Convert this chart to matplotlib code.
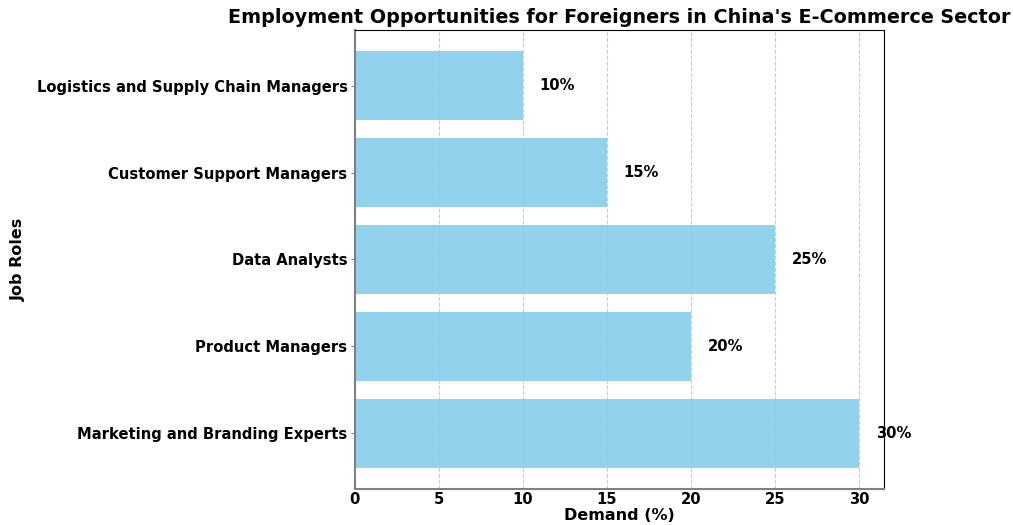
import matplotlib.pyplot as plt

roles = ['Marketing and Branding Experts', 'Product Managers', 'Data Analysts',
         'Customer Support Managers', 'Logistics and Supply Chain Managers']
demand = [30, 20, 25, 15, 10]

fig, ax = plt.subplots(figsize=(10.13, 5.25), dpi=100)
fig.subplots_adjust(left=0.350, right=0.873, top=0.943, bottom=0.0686)

bars = ax.barh(roles, demand, color='skyblue', alpha=0.9, height=0.8)
for i, v in enumerate(demand):
    ax.text(v + 1, i, f'{v}%', va='center', ha='left', fontsize=10.6, fontweight='bold')

ax.set_title("Employment Opportunities for Foreigners in China's E-Commerce Sector",
             fontsize=13.8, fontweight='bold', pad=5)
ax.set_xlabel('Demand (%)', fontsize=11.5, fontweight='bold', labelpad=1)
ax.set_ylabel('Job Roles', fontsize=11.5, fontweight='bold', labelpad=8)
ax.xaxis.grid(True, linestyle='--', color='grey', alpha=0.4)
ax.set_axisbelow(True)
ax.tick_params(axis='x', length=0, pad=2)
ax.tick_params(axis='y', length=3, pad=2, color='grey')
for lab in ax.get_xticklabels() + ax.get_yticklabels():
    lab.set_fontweight('bold')
    lab.set_fontsize(10.6)
ax.spines['left'].set_color('grey')
ax.spines['bottom'].set_color('grey')
ax.spines['left'].set_linewidth(1.5)
ax.spines['bottom'].set_linewidth(1.5)

fig.savefig('out.png', dpi=100)
